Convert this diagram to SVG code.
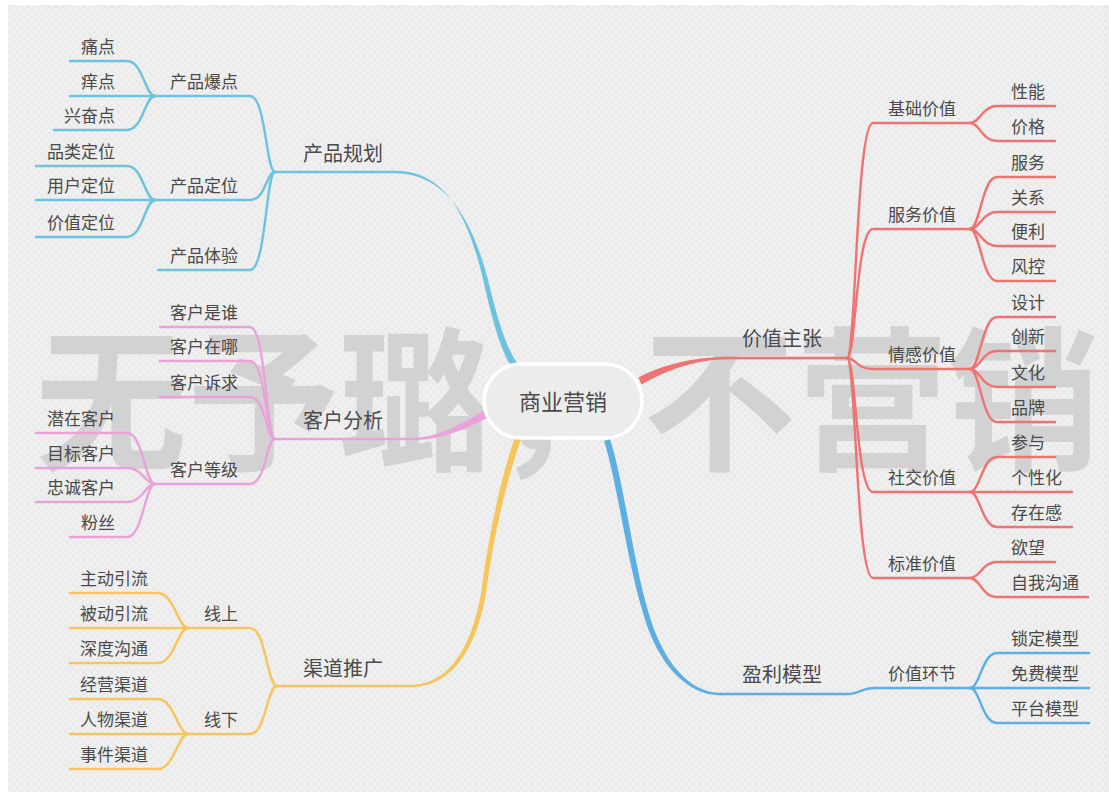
<svg xmlns="http://www.w3.org/2000/svg" width="1109" height="792" viewBox="0 0 1109 792">
<defs>
<pattern id="hatch" width="7" height="7" patternUnits="userSpaceOnUse"><path d="M0 7 L7 0 M0 0 L7 7" stroke="#e3e3e3" stroke-width="0.7"/></pattern>
<style>
text{font-family:"Noto Sans CJK SC","Noto Sans",sans-serif;fill:#4a4a4a}
.l{font-size:17px}
.m{font-size:20px}
.e{text-anchor:end}
.c{fill:none;stroke-width:2.4;stroke-linecap:round}
.b1{stroke:#6dc2dd}.f1{fill:#6dc2dd}
.pk{stroke:#eaa2da}.fpk{fill:#eaa2da}
.y{stroke:#f6c55c}.fy{fill:#f6c55c}
.r{stroke:#ef7373}.fr{fill:#ef7373}
.b2{stroke:#5caee3}.fb2{fill:#5caee3}
</style>
</defs>
<rect width="1109" height="792" fill="#ffffff"/>
<rect x="8" y="5" width="1101" height="787" fill="#f0f0f0"/>
<rect x="8" y="5" width="1101" height="787" fill="url(#hatch)"/>
<text x="35" y="458" font-size="155" font-weight="bold" textLength="1065" lengthAdjust="spacingAndGlyphs" style="fill:#d2d2d2">无予璐，不营销</text>

<g id="connectors">
<!-- main tapered -->
<path class="f1" d="M 275 170.8 H 395 C 441 170.8 468 208 485.5 290 C 497 340 505 356 511.5 367 L 518.5 365 C 511 354 503 340 490.5 290 C 472 210 440 173.2 395 173.2 H 275 Z"/>
<path class="fpk" d="M 275 437.8 H 410 C 440 437.8 460 424 486.5 409.5 L 489.5 416.5 C 464 430 440 440.2 410 440.2 H 275 Z"/>
<path class="fy" d="M 277 684.8 H 410 C 453 684.8 473.5 640 481.5 590 C 489.5 530 502 474 515 437 L 521 439 C 508 476 494.5 530 486.5 590 C 478.5 640 457 687.2 410 687.2 H 277 Z"/>
<path class="fr" d="M 638.5 377.5 C 658 367 689 356.8 730 356.8 H 847 V 359.2 H 730 C 691 359.2 662 373 641.5 384.5 Z"/>
<path class="fb2" d="M 604 441 C 617 481 627 561 642.5 611 C 657.5 667 689 695.2 720 695.2 H 722 V 692.8 H 720 C 691 692.8 662.5 664 647.5 609 C 633 559 623 479 610 439 Z"/>
<path class="c b2" d="M 721 694 H 848 C 858 694 862 688 875 688 H 970"/>

<!-- 产品规划 -->
<path class="c b1" d="M 275 172 C 266 172 266 96 250 96 H 155"/>
<path class="c b1" d="M 275 172 C 266 172 266 200 250 200 H 155"/>
<path class="c b1" d="M 275 172 C 266 172 266 270 250 270 H 158"/>
<path class="c b1" d="M 155 96 C 145 96 143 61 127 61 H 70"/>
<path class="c b1" d="M 155 96 H 70"/>
<path class="c b1" d="M 155 96 C 145 96 143 130 127 130 H 54"/>
<path class="c b1" d="M 155 200 C 145 200 143 166 127 166 H 36"/>
<path class="c b1" d="M 155 200 H 36"/>
<path class="c b1" d="M 155 200 C 145 200 143 237 127 237 H 36"/>

<!-- 客户分析 -->
<path class="c pk" d="M 275 439 C 266 439 266 327 250 327 H 160"/>
<path class="c pk" d="M 275 439 C 266 439 266 361 250 361 H 160"/>
<path class="c pk" d="M 275 439 C 266 439 266 397 250 397 H 160"/>
<path class="c pk" d="M 275 439 C 266 439 266 484 250 484 H 155"/>
<path class="c pk" d="M 155 484 C 145 484 143 433 127 433 H 36"/>
<path class="c pk" d="M 155 484 C 145 484 143 468 127 468 H 36"/>
<path class="c pk" d="M 155 484 C 145 484 143 502 127 502 H 36"/>
<path class="c pk" d="M 155 484 C 145 484 143 537 127 537 H 70"/>

<!-- 渠道推广 -->
<path class="c y" d="M 277 686 C 267 686 266 628 250 628 H 188"/>
<path class="c y" d="M 277 686 C 267 686 266 734 250 734 H 188"/>
<path class="c y" d="M 188 628 C 178 628 174 593 158 593 H 70"/>
<path class="c y" d="M 188 628 H 70"/>
<path class="c y" d="M 188 628 C 178 628 174 663 158 663 H 70"/>
<path class="c y" d="M 188 734 C 178 734 174 699 158 699 H 70"/>
<path class="c y" d="M 188 734 H 70"/>
<path class="c y" d="M 188 734 C 178 734 174 769 158 769 H 70"/>

<!-- 价值主张 -->
<path class="c r" d="M 847 358 C 856 358 856 123 873 123 H 970"/>
<path class="c r" d="M 847 358 C 856 358 856 229 873 229 H 970"/>
<path class="c r" d="M 847 358 C 856 358 856 369 873 369 H 970"/>
<path class="c r" d="M 847 358 C 856 358 856 492 873 492 H 970"/>
<path class="c r" d="M 847 358 C 856 358 856 578 873 578 H 970"/>
<path class="c r" d="M 970 123 C 980 123 982 106 997 106 H 1055"/>
<path class="c r" d="M 970 123 C 980 123 982 141 997 141 H 1055"/>
<path class="c r" d="M 970 229 C 980 229 982 177 997 177 H 1055"/>
<path class="c r" d="M 970 229 C 980 229 982 212 997 212 H 1055"/>
<path class="c r" d="M 970 229 C 980 229 982 246 997 246 H 1055"/>
<path class="c r" d="M 970 229 C 980 229 982 281 997 281 H 1055"/>
<path class="c r" d="M 970 369 C 980 369 982 317 997 317 H 1055"/>
<path class="c r" d="M 970 369 C 980 369 982 351 997 351 H 1055"/>
<path class="c r" d="M 970 369 C 980 369 982 387 997 387 H 1055"/>
<path class="c r" d="M 970 369 C 980 369 982 422 997 422 H 1055"/>
<path class="c r" d="M 970 492 C 980 492 982 457 997 457 H 1055"/>
<path class="c r" d="M 970 492 H 1072"/>
<path class="c r" d="M 970 492 C 980 492 982 527 997 527 H 1072"/>
<path class="c r" d="M 970 578 C 980 578 982 562 997 562 H 1055"/>
<path class="c r" d="M 970 578 C 980 578 982 597 997 597 H 1088"/>

<!-- 盈利模型 -->
<path class="c b2" d="M 970 688 C 980 688 982 653 997 653 H 1089"/>
<path class="c b2" d="M 970 688 H 1089"/>
<path class="c b2" d="M 970 688 C 980 688 982 723 997 723 H 1089"/>
</g>

<g id="center">
<rect x="484" y="364" width="158" height="74" rx="37" fill="#ececec" stroke="#ffffff" stroke-width="3.5"/>
<text x="563" y="410" font-size="22" text-anchor="middle">商业营销</text>
</g>

<g id="n-chanpinguihua"><text class="m" x="303" y="161">产品规划</text></g>
<g id="n-baodian"><text class="l e" x="238" y="88">产品爆点</text></g>
<g id="n-dingwei"><text class="l e" x="238" y="192">产品定位</text></g>
<g id="n-tiyan"><text class="l e" x="238" y="262">产品体验</text></g>
<g id="n-tongdian"><text class="l e" x="115" y="53">痛点</text></g>
<g id="n-yangdian"><text class="l e" x="115" y="88">痒点</text></g>
<g id="n-xingfendian"><text class="l e" x="115" y="122">兴奋点</text></g>
<g id="n-pinlei"><text class="l e" x="115" y="158">品类定位</text></g>
<g id="n-yonghu"><text class="l e" x="115" y="192">用户定位</text></g>
<g id="n-jiazhidingwei"><text class="l e" x="115" y="229">价值定位</text></g>

<g id="n-kehufenxi"><text class="m" x="303" y="428">客户分析</text></g>
<g id="n-shishui"><text class="l e" x="238" y="319">客户是谁</text></g>
<g id="n-zaina"><text class="l e" x="238" y="353">客户在哪</text></g>
<g id="n-suqiu"><text class="l e" x="238" y="389">客户诉求</text></g>
<g id="n-dengji"><text class="l e" x="238" y="476">客户等级</text></g>
<g id="n-qianzai"><text class="l e" x="115" y="425">潜在客户</text></g>
<g id="n-mubiao"><text class="l e" x="115" y="460">目标客户</text></g>
<g id="n-zhongcheng"><text class="l e" x="115" y="494">忠诚客户</text></g>
<g id="n-fensi"><text class="l e" x="115" y="529">粉丝</text></g>

<g id="n-qudao"><text class="m" x="303" y="676">渠道推广</text></g>
<g id="n-xianshang"><text class="l e" x="238" y="620">线上</text></g>
<g id="n-xianxia"><text class="l e" x="238" y="726">线下</text></g>
<g id="n-zhudong"><text class="l" x="80" y="585">主动引流</text></g>
<g id="n-beidong"><text class="l" x="80" y="620">被动引流</text></g>
<g id="n-shendu"><text class="l" x="80" y="655">深度沟通</text></g>
<g id="n-jingying"><text class="l" x="80" y="691">经营渠道</text></g>
<g id="n-renwu"><text class="l" x="80" y="726">人物渠道</text></g>
<g id="n-shijian"><text class="l" x="80" y="761">事件渠道</text></g>

<g id="n-jiazhizhuzhang"><text class="m" x="742" y="346">价值主张</text></g>
<g id="n-jichu"><text class="l" x="888" y="115">基础价值</text></g>
<g id="n-fuwujiazhi"><text class="l" x="888" y="221">服务价值</text></g>
<g id="n-qinggan"><text class="l" x="888" y="361">情感价值</text></g>
<g id="n-shejiao"><text class="l" x="888" y="484">社交价值</text></g>
<g id="n-biaozhun"><text class="l" x="888" y="570">标准价值</text></g>
<g id="n-xingneng"><text class="l" x="1011" y="98">性能</text></g>
<g id="n-jiage"><text class="l" x="1011" y="133">价格</text></g>
<g id="n-fuwu"><text class="l" x="1011" y="169">服务</text></g>
<g id="n-guanxi"><text class="l" x="1011" y="204">关系</text></g>
<g id="n-bianli"><text class="l" x="1011" y="238">便利</text></g>
<g id="n-fengkong"><text class="l" x="1011" y="273">风控</text></g>
<g id="n-sheji"><text class="l" x="1011" y="309">设计</text></g>
<g id="n-chuangxin"><text class="l" x="1011" y="343">创新</text></g>
<g id="n-wenhua"><text class="l" x="1011" y="379">文化</text></g>
<g id="n-pinpai"><text class="l" x="1011" y="414">品牌</text></g>
<g id="n-canyu"><text class="l" x="1011" y="449">参与</text></g>
<g id="n-gexinghua"><text class="l" x="1011" y="484">个性化</text></g>
<g id="n-cunzaigan"><text class="l" x="1011" y="519">存在感</text></g>
<g id="n-yuwang"><text class="l" x="1011" y="554">欲望</text></g>
<g id="n-ziwo"><text class="l" x="1011" y="589">自我沟通</text></g>

<g id="n-yingli"><text class="m" x="742" y="682">盈利模型</text></g>
<g id="n-huanjie"><text class="l" x="888" y="680">价值环节</text></g>
<g id="n-suoding"><text class="l" x="1011" y="645">锁定模型</text></g>
<g id="n-mianfei"><text class="l" x="1011" y="680">免费模型</text></g>
<g id="n-pingtai"><text class="l" x="1011" y="715">平台模型</text></g>
</svg>
